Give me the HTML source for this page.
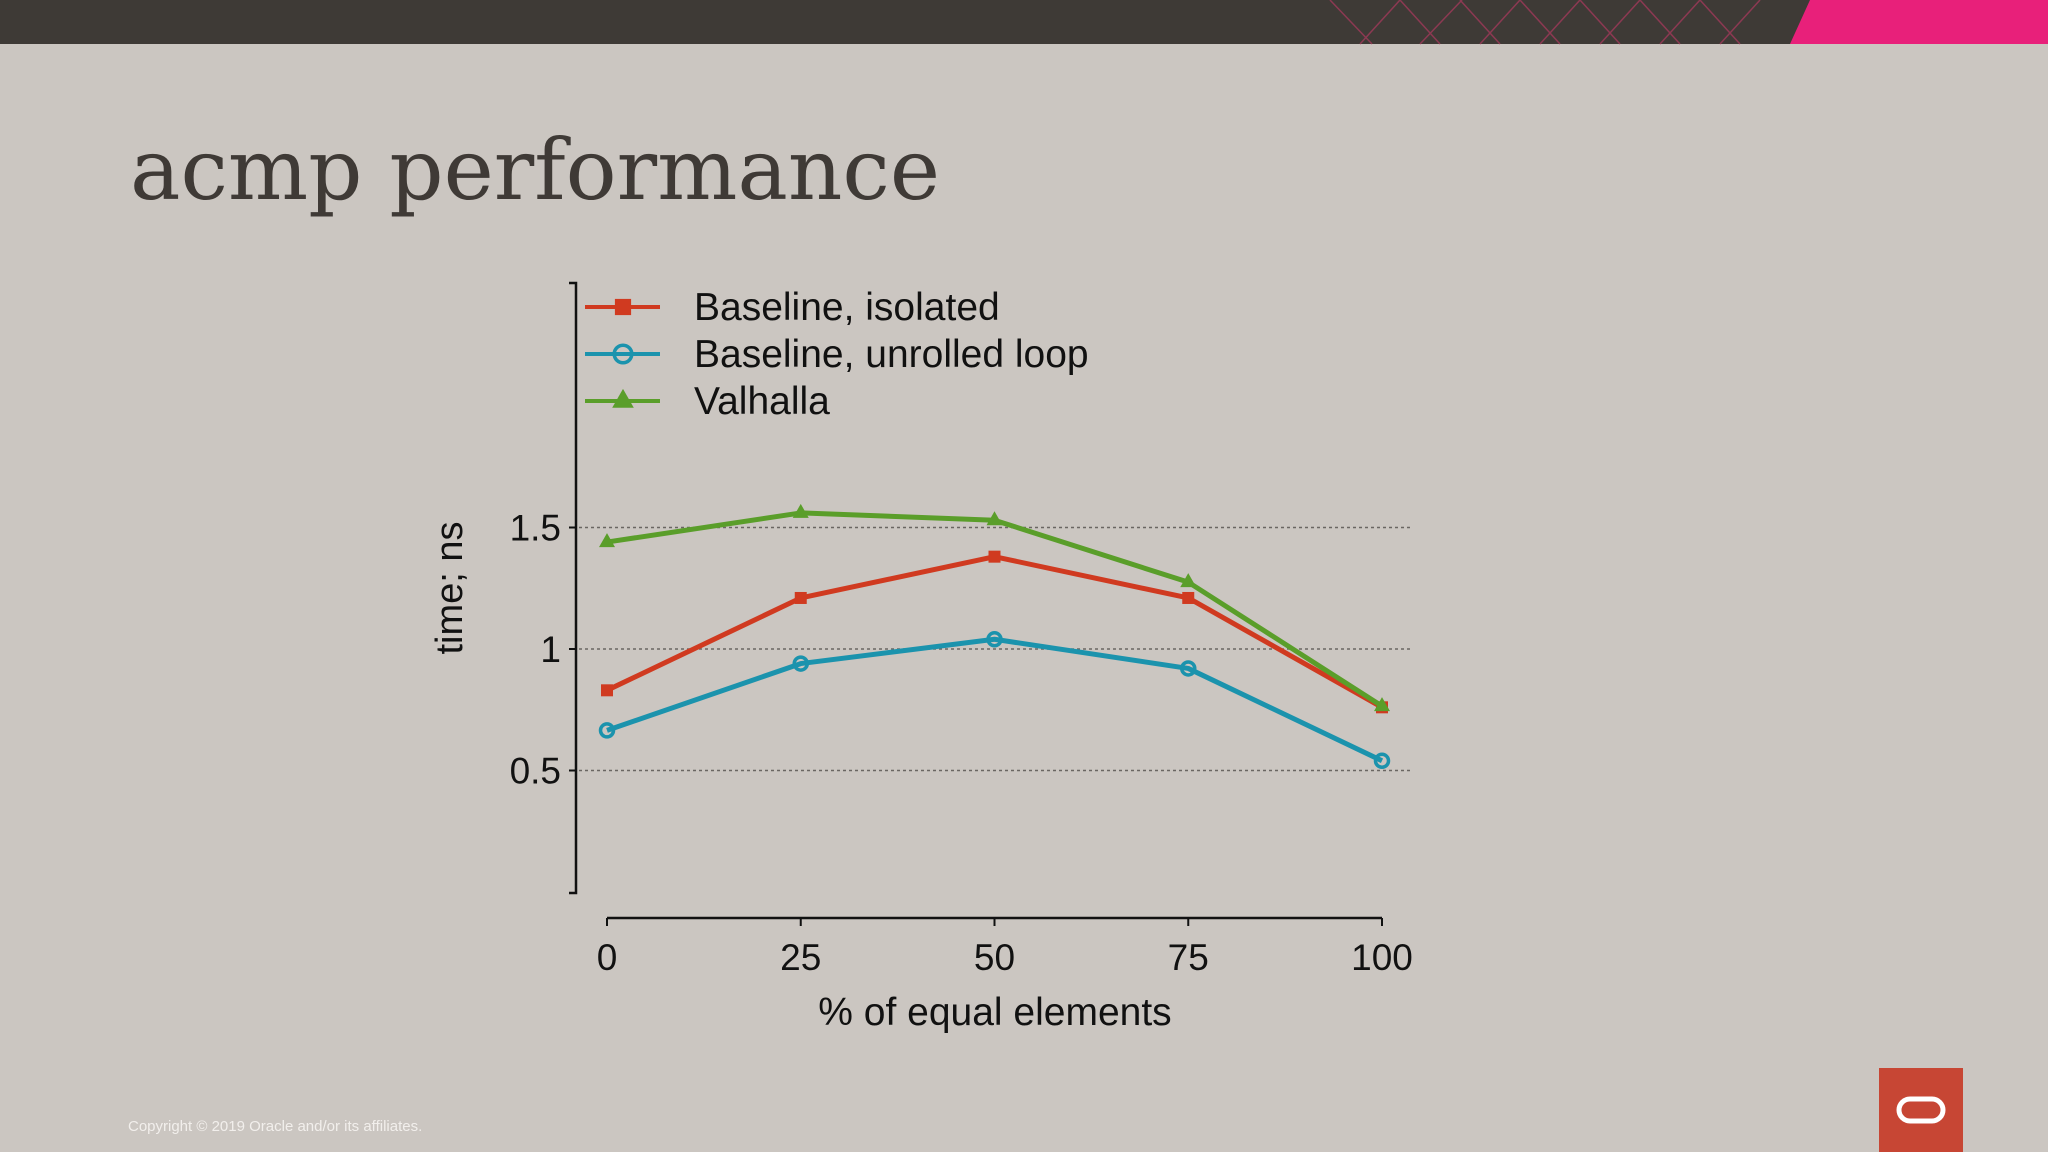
<!DOCTYPE html>
<html><head><meta charset="utf-8"><style>
html,body{margin:0;padding:0}
body{width:2048px;height:1152px;background:#cbc6c1;position:relative;overflow:hidden;font-family:"Liberation Sans",sans-serif}
</style></head><body>
<svg width="2048" height="1152" style="position:absolute;left:0;top:0">
  <rect x="0" y="0" width="2048" height="44" fill="#3e3a36"/>
  <g stroke="#a03a5a" stroke-width="1.5" fill="none" opacity="0.8">
    <path d="M1330 0 L1372 44 M1360 44 L1400 0 M1400 0 L1440 44 M1420 44 L1462 0 M1460 0 L1500 44 M1480 44 L1520 0 M1520 0 L1560 44 M1540 44 L1580 0 M1580 0 L1620 44 M1600 44 L1640 0 M1640 0 L1680 44 M1660 44 L1700 0 M1700 0 L1740 44 M1720 44 L1760 0"/>
  </g>
  <polygon points="1810,0 2048,0 2048,44 1790,44" fill="#e8207a"/>
  <text x="130" y="199" font-family="'DejaVu Serif','Liberation Serif',serif" font-size="84" fill="#3f3a36" textLength="810" lengthAdjust="spacingAndGlyphs">acmp performance</text>
  <text x="128" y="1131" font-size="15" fill="#f2efec">Copyright © 2019 Oracle and/or its affiliates.</text>
  <rect x="1879" y="1068" width="84" height="84" fill="#c74634"/>
  <rect x="1899" y="1099" width="44" height="22" rx="11" fill="none" stroke="#fff" stroke-width="5"/>
  <g id="chart"></g>
</svg>
<script>
const categories=[0,25,50,75,100];
const yTicks=[0.5,1,1.5];
const yTickLabels=["0.5","1","1.5"];
const seriesNames=["Baseline, isolated","Baseline, unrolled loop","Valhalla"];
const isolated=[0.83,1.21,1.38,1.21,0.76];
const unrolled=[0.665,0.94,1.04,0.92,0.54];
const valhalla=[1.44,1.56,1.53,1.275,0.765];

const NS="http://www.w3.org/2000/svg";
const g=document.getElementById('chart');
const xS=v=>607+(v-0)*(1382-607)/100;
const yS=v=>649-(v-1)*243;
function mk(t,a,p){const e=document.createElementNS(NS,t);for(const k in a)e.setAttribute(k,a[k]);(p||g).appendChild(e);return e;}

yTicks.forEach((t,i)=>{
  const l=mk('line',{x1:579,x2:1410,y1:yS(t),y2:yS(t),stroke:'#6a6662','stroke-width':1.5,'stroke-dasharray':'3,3'});
  
  
  const tk=mk('line',{x1:569,x2:576,y1:yS(t),y2:yS(t),stroke:'#111','stroke-width':2});
  
  
  const tx=mk('text',{x:561,y:yS(t)+13,'text-anchor':'end','font-size':37,fill:'#111'});
  tx.textContent=yTickLabels[i];
  
  
});
const ya=mk('path',{d:'M569 283 L576 283 L576 893 L569 893',fill:'none',stroke:'#111','stroke-width':2.5});


const yt=mk('text',{x:0,y:0,transform:'translate(462,588) rotate(-90)','text-anchor':'middle','font-size':38,fill:'#111'});
yt.textContent='time; ns';


const xa=mk('line',{x1:607,x2:1382,y1:918,y2:918,stroke:'#111','stroke-width':2.5});


categories.forEach(c=>{
  const tk=mk('line',{x1:xS(c),x2:xS(c),y1:918,y2:926,stroke:'#111','stroke-width':2});
  
  
  const tx=mk('text',{x:xS(c),y:970,'text-anchor':'middle','font-size':37,fill:'#111'});
  tx.textContent=String(c);
  
  
});
const xt=mk('text',{x:995,y:1025,'text-anchor':'middle','font-size':39,fill:'#111'});
xt.textContent='% of equal elements';



const colors=['#d03a20','#1b93ad','#5a9e2a'];
const markers=['square','circle','triangle'];
function marker(type,x,y,c,p,s){
  s=s||1;let e;
  if(type==='square')e=mk('rect',{x:x-6*s,y:y-6*s,width:12*s,height:12*s,fill:c},p);
  else if(type==='circle')e=mk('circle',{cx:x,cy:y,r:6.5*s,fill:'none',stroke:c,'stroke-width':3.5},p);
  else e=mk('polygon',{points:`${x},${y-9*s} ${x+8*s},${y+5*s} ${x-8*s},${y+5*s}`,fill:c},p);
  return e;
}
[isolated,unrolled,valhalla].forEach((data,si)=>{
  const sg=mk('g',{});
  
  
  const pl=mk('polyline',{points:data.map((v,i)=>xS(categories[i])+','+yS(v)).join(' '),fill:'none',stroke:colors[si],'stroke-width':5,'stroke-linejoin':'round'},sg);
  
  
  data.forEach((v,i)=>{
    const m=marker(markers[si],xS(categories[i]),yS(v),colors[si],sg);
    
    
  });
  const ly=307+si*47;
  const lg=mk('g',{});
  
  
  mk('line',{x1:585,x2:660,y1:ly,y2:ly,stroke:colors[si],'stroke-width':4},lg);
  marker(markers[si],623,ly,colors[si],lg,1.35);
  const t=mk('text',{x:694,y:ly+13,'font-size':39,fill:'#111'},lg);
  t.textContent=seriesNames[si];
});
</script>
</body></html>
